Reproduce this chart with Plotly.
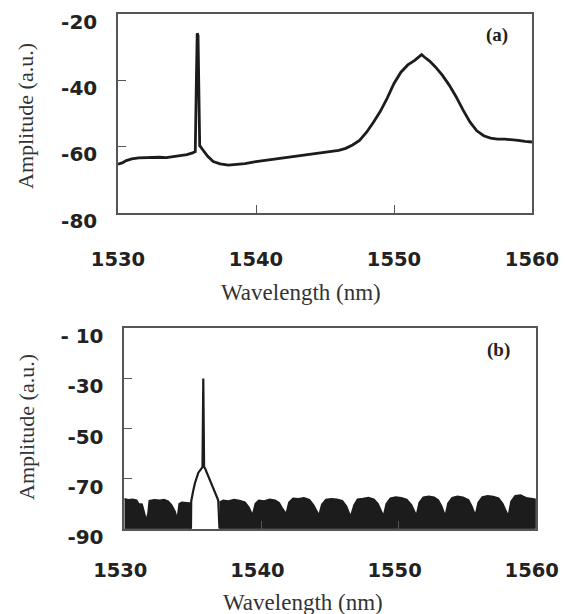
import plotly.graph_objects as go

# ---------------- data: panel (a) ----------------
wl_a = [1530.0, 1530.3, 1530.6, 1531.0, 1531.5, 1532.0, 1532.5, 1533.0, 1533.5, 1534.0,
        1534.5, 1535.0, 1535.4, 1535.6, 1535.68, 1535.74, 1535.8, 1535.86, 1535.92, 1536.1,
        1536.5, 1536.9, 1537.4, 1538.0, 1538.6, 1539.2, 1540.0, 1541.0, 1542.0, 1543.0,
        1544.0, 1545.0, 1546.0, 1546.5, 1547.0, 1547.5, 1548.0, 1548.5, 1549.0, 1549.5,
        1550.0, 1550.5, 1551.0, 1551.5, 1551.8, 1552.0, 1552.2, 1552.6, 1553.0, 1553.5,
        1554.0, 1554.5, 1555.0, 1555.5, 1556.0, 1556.5, 1557.0, 1557.5, 1558.0, 1558.5,
        1559.0, 1559.5, 1560.0]
amp_a = [-65.4, -65.0, -64.3, -63.8, -63.5, -63.4, -63.5, -63.3, -63.4, -63.1,
         -62.9, -62.5, -62.0, -61.6, -40.0, -25.8, -26.5, -45.0, -59.8, -60.8,
         -63.0, -64.6, -65.3, -65.7, -65.5, -65.2, -64.6, -64.0, -63.4, -62.8,
         -62.2, -61.7, -61.2, -60.6, -59.6, -58.2, -55.8, -52.8, -49.5, -45.5,
         -41.0, -37.6, -35.4, -34.0, -33.0, -32.3, -33.0, -34.3, -36.0, -38.5,
         -41.5, -45.0, -49.0, -52.6, -55.3, -56.8, -57.5, -57.8, -57.8, -57.9,
         -58.2, -58.5, -58.7]

# ---------------- data: panel (b) ----------------
# noise floor top edge, left of the laser line
wl_noise_left = [1530.0, 1530.3, 1530.6, 1530.9, 1531.05, 1531.3, 1531.42, 1531.6, 1531.72,
                 1531.82, 1532.2, 1532.6, 1532.9, 1533.2, 1533.45, 1533.7, 1533.86, 1534.0,
                 1534.2, 1534.5, 1534.86]
amp_noise_left = [-78.0, -78.4, -78.2, -78.6, -80.0, -80.2, -82.6, -86.5, -84.0,
                  -78.8, -78.4, -78.6, -78.3, -79.0, -80.5, -83.0, -86.0, -80.0,
                  -79.4, -79.6, -79.8]
# noise floor top edge, right of the laser line
wl_noise_right = [1536.94, 1537.2, 1537.6, 1538.0, 1538.4, 1538.8, 1539.1, 1539.35, 1539.55,
                  1539.8, 1540.2, 1540.6, 1541.0, 1541.3, 1541.55, 1541.8, 1542.0, 1542.3,
                  1542.7, 1543.1, 1543.5, 1543.8, 1544.2, 1544.4, 1544.7, 1545.1, 1545.5,
                  1545.9, 1546.2, 1546.5, 1546.75, 1547.0, 1547.4, 1547.8, 1548.2, 1548.5,
                  1548.9, 1549.1, 1549.4, 1549.8, 1550.2, 1550.6, 1550.95, 1551.3, 1551.5,
                  1551.8, 1552.2, 1552.6, 1552.9, 1553.15, 1553.4, 1553.6, 1553.9, 1554.3,
                  1554.7, 1555.1, 1555.35, 1555.6, 1555.8, 1556.1, 1556.5, 1556.9, 1557.3,
                  1557.6, 1558.0, 1558.2, 1558.5, 1558.9, 1559.3, 1559.7, 1560.0]
amp_noise_right = [-79.5, -78.6, -78.9, -78.3, -78.7, -79.4, -81.5, -84.5, -80.0,
                   -78.6, -78.9, -78.2, -78.6, -79.6, -82.0, -84.0, -79.5, -77.8,
                   -78.0, -77.6, -78.4, -80.5, -84.5, -80.2, -78.3, -78.0, -78.2,
                   -78.8, -81.0, -85.0, -80.5, -78.2, -77.9, -77.5, -78.2, -80.0,
                   -84.8, -80.0, -77.8, -77.3, -77.6, -78.3, -80.5, -84.6, -79.5,
                   -77.4, -77.0, -77.4, -78.5, -81.0, -84.8, -79.8, -77.6, -77.0,
                   -77.4, -78.4, -81.0, -84.6, -79.5, -77.3, -76.8, -77.1, -77.8,
                   -80.0, -84.8, -79.0, -76.8, -76.5, -77.6, -78.0, -78.2]
# laser line with its pedestal
wl_line = [1534.86, 1534.88, 1535.0, 1535.15, 1535.4, 1535.7, 1535.76, 1535.82, 1535.88,
           1536.1, 1536.35, 1536.6, 1536.85, 1536.94]
amp_line = [-90.0, -79.0, -75.5, -71.8, -67.6, -65.4, -30.0, -65.4, -65.8,
            -68.7, -71.8, -74.9, -78.6, -90.0]

floor_b = -90

x_ticks = [1530, 1540, 1550, 1560]
x_tick_text = ["1530", "1540", "1550", "1560"]
y_ticks_a = [-20, -40, -60, -80]
y_tick_text_a = ["-20", "-40", "-60", "-80"]
y_ticks_b = [-10, -30, -50, -70, -90]
y_tick_text_b = ["- 10", "-30", "-50", "-70", "-90"]
x_title = "Wavelength (nm)"
y_title = "Amplitude (a.u.)"

ink = "#1c1c1c"
axis_col = "#555555"

# the page places the figure 8 px in from the window's corner
OFF = 8
W, H = 567 - OFF, 614 - OFF


def px(x):
    return (x - OFF) / W


def py(y):
    return 1 - (y - OFF) / H


fig = go.Figure()

fig.add_trace(go.Scatter(x=wl_a, y=amp_a, mode="lines",
                         line=dict(color=ink, width=2.8), xaxis="x", yaxis="y",
                         showlegend=False))

for wl, amp in [(wl_noise_left, amp_noise_left), (wl_noise_right, amp_noise_right)]:
    fig.add_trace(go.Scatter(x=wl + [wl[-1], wl[0]], y=amp + [floor_b, floor_b],
                             mode="lines", fill="toself", fillcolor=ink,
                             line=dict(color=ink, width=1.5), xaxis="x2", yaxis="y2",
                             showlegend=False))

fig.add_trace(go.Scatter(x=wl_line, y=amp_line, mode="lines",
                         line=dict(color=ink, width=2.2), xaxis="x2", yaxis="y2",
                         showlegend=False))

tick_font_x = dict(family="DejaVu Sans", size=19.5, color="#222222", weight="bold")
tick_font_y = dict(family="DejaVu Sans", size=20, color="#222222", weight="bold")

common_x = dict(range=[1530, 1560], tickvals=x_ticks, ticktext=x_tick_text,
                ticks="inside", ticklen=8, automargin=False,
                tickcolor=axis_col, showline=True, linecolor=axis_col, linewidth=1.5,
                mirror=True, showgrid=False, zeroline=False, tickfont=tick_font_x)
common_y = dict(ticks="inside", ticklen=8, tickcolor=axis_col, showline=True,
                linecolor=axis_col, linewidth=1.5, mirror=True, showgrid=False,
                zeroline=False, tickfont=tick_font_y, ticklabelstandoff=15,
                ticklabelshift=8, automargin=False)

fig.update_layout(
    width=W, height=H,
    margin=dict(l=0, r=0, t=0, b=0, pad=0),
    paper_bgcolor="white", plot_bgcolor="white",
    xaxis=dict(domain=[px(118), px(532)], anchor="y", ticklabelstandoff=28, **common_x),
    yaxis=dict(domain=[py(212.5), py(14)], anchor="x", range=[-80, -20],
               tickvals=y_ticks_a, ticktext=y_tick_text_a, **common_y),
    xaxis2=dict(domain=[px(124.3), px(535.7)], anchor="y2", ticklabelstandoff=23,
                ticklabelshift=-4, **common_x),
    yaxis2=dict(domain=[py(528.8), py(328.3)], anchor="x2", range=[-90, -10],
                tickvals=y_ticks_b, ticktext=y_tick_text_b, **common_y),
)

title_font = dict(family="Liberation Serif, Times New Roman", size=23, color="#333333")
ytitle_font = dict(family="Liberation Serif, Times New Roman", size=22, color="#333333")
annos = [
    dict(text=x_title, x=301, y=292, font=title_font),
    dict(text=x_title, x=303, y=602, font=title_font),
    dict(text=y_title, x=26, y=116, textangle=-90, font=ytitle_font),
    dict(text=y_title, x=26, y=427, textangle=-90, font=ytitle_font),
]
for a in annos:
    fig.add_annotation(xref="paper", yref="paper", x=px(a["x"]), y=py(a["y"]),
                       text=a["text"], showarrow=False, font=a["font"],
                       textangle=a.get("textangle", 0), xanchor="center", yanchor="middle")

label_font = dict(family="Liberation Serif, Times New Roman", size=19, color="#222222")
fig.add_annotation(xref="paper", yref="paper", x=px(497), y=py(35),
                   text="<b>(a)</b>", showarrow=False, font=label_font,
                   xanchor="center", yanchor="middle")
fig.add_annotation(xref="paper", yref="paper", x=px(498), y=py(350),
                   text="<b>(b)</b>", showarrow=False, font=label_font,
                   xanchor="center", yanchor="middle")

fig.write_html("out.html")
